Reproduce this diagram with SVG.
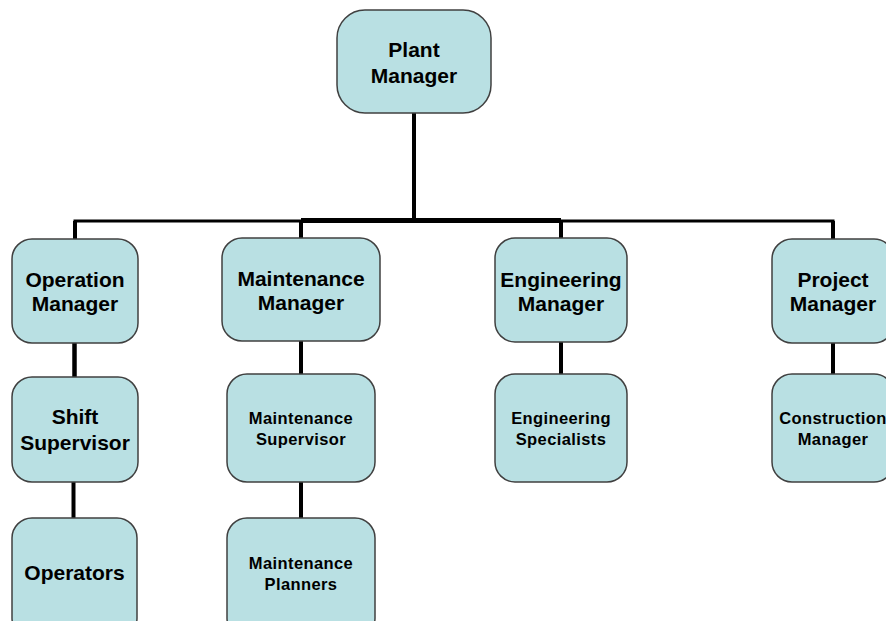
<svg xmlns="http://www.w3.org/2000/svg" width="886" height="621" viewBox="0 0 886 621">
<style>
.box{fill:#B9E0E3;stroke:#404040;stroke-width:1.5}
.t{font-family:"Liberation Sans",Arial,sans-serif;font-weight:bold;fill:#000;text-anchor:middle}
.big{font-size:21px}
.sm{font-size:16.5px;letter-spacing:0.4px}
.ln{stroke:#000;fill:none;stroke-linecap:butt}
</style>
<rect width="886" height="621" fill="#fff"/>
<g id="connectors">
<line class="ln" x1="414" y1="113" x2="414" y2="221" stroke-width="4"/>
<line class="ln" x1="73.5" y1="221" x2="834.5" y2="221" stroke-width="3"/>
<line class="ln" x1="301" y1="220.5" x2="561" y2="220.5" stroke-width="5"/>
<line class="ln" x1="75" y1="221" x2="75" y2="239" stroke-width="4"/>
<line class="ln" x1="301" y1="221" x2="301" y2="238" stroke-width="4"/>
<line class="ln" x1="561" y1="221" x2="561" y2="238" stroke-width="4"/>
<line class="ln" x1="833" y1="221" x2="833" y2="239" stroke-width="4"/>
<line class="ln" x1="74.5" y1="343" x2="74.5" y2="377" stroke-width="4.5"/>
<line class="ln" x1="73.5" y1="482" x2="73.5" y2="518" stroke-width="4"/>
<line class="ln" x1="301" y1="341" x2="301" y2="374" stroke-width="4"/>
<line class="ln" x1="301" y1="482" x2="301" y2="518" stroke-width="4"/>
<line class="ln" x1="561" y1="342" x2="561" y2="374" stroke-width="4"/>
<line class="ln" x1="833" y1="343" x2="833" y2="374" stroke-width="4"/>
</g>
<g id="plant-manager">
<rect class="box" x="337" y="10" width="154" height="103" rx="28"/>
<text class="t big" x="414" y="57">Plant</text>
<text class="t big" x="414" y="83">Manager</text>
</g>
<g id="operation-manager">
<rect class="box" x="12" y="239" width="126" height="104" rx="20"/>
<text class="t big" x="75" y="287">Operation</text>
<text class="t big" x="75" y="311">Manager</text>
</g>
<g id="maintenance-manager">
<rect class="box" x="222" y="238" width="158" height="103" rx="20"/>
<text class="t big" x="301" y="286">Maintenance</text>
<text class="t big" x="301" y="310">Manager</text>
</g>
<g id="engineering-manager">
<rect class="box" x="495" y="238" width="132" height="104" rx="20"/>
<text class="t big" x="561" y="287">Engineering</text>
<text class="t big" x="561" y="311">Manager</text>
</g>
<g id="project-manager">
<rect class="box" x="772" y="239" width="122" height="104" rx="20"/>
<text class="t big" x="833" y="287">Project</text>
<text class="t big" x="833" y="311">Manager</text>
</g>
<g id="shift-supervisor">
<rect class="box" x="12" y="377" width="126" height="105" rx="20"/>
<text class="t big" x="75" y="424">Shift</text>
<text class="t big" x="75" y="450">Supervisor</text>
</g>
<g id="maintenance-supervisor">
<rect class="box" x="227" y="374" width="148" height="108" rx="20"/>
<text class="t sm" x="301" y="424">Maintenance</text>
<text class="t sm" x="301" y="445">Supervisor</text>
</g>
<g id="engineering-specialists">
<rect class="box" x="495" y="374" width="132" height="108" rx="20"/>
<text class="t sm" x="561" y="424">Engineering</text>
<text class="t sm" x="561" y="445">Specialists</text>
</g>
<g id="construction-manager">
<rect class="box" x="772" y="374" width="122" height="108" rx="20"/>
<text class="t sm" x="833" y="424">Construction</text>
<text class="t sm" x="833" y="445">Manager</text>
</g>
<g id="operators">
<rect class="box" x="12" y="518" width="125" height="120" rx="20"/>
<text class="t big" x="74.5" y="580">Operators</text>
</g>
<g id="maintenance-planners">
<rect class="box" x="227" y="518" width="148" height="120" rx="20"/>
<text class="t sm" x="301" y="569">Maintenance</text>
<text class="t sm" x="301" y="590">Planners</text>
</g>
</svg>
